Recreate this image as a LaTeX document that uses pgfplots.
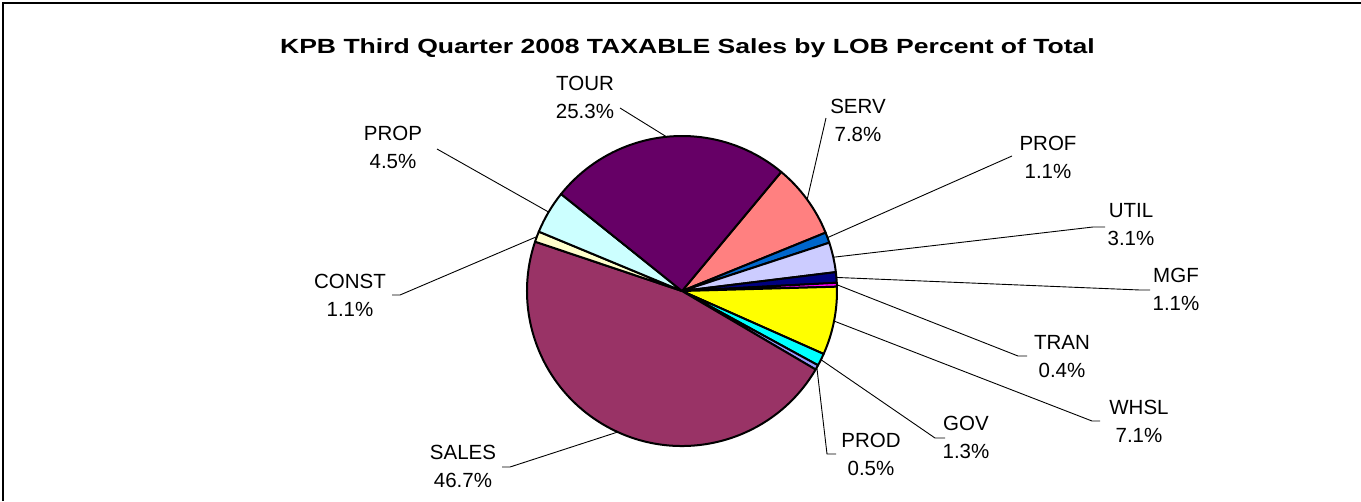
\documentclass[border=0pt]{standalone}
\usepackage{graphicx}
\usepackage{pgfplots}
\pgfplotsset{compat=1.18}
\usepackage{pgfplotstable}
\usepackage{fontspec}
\setmainfont{Liberation Sans}
\definecolor{cTOUR}{HTML}{660066}
\definecolor{cSERV}{HTML}{FF8080}
\definecolor{cPROF}{HTML}{0066CC}
\definecolor{cUTIL}{HTML}{CCCCFF}
\definecolor{cMGF}{HTML}{000080}
\definecolor{cTRAN}{HTML}{FF00FF}
\definecolor{cWHSL}{HTML}{FFFF00}
\definecolor{cGOV}{HTML}{00FFFF}
\definecolor{cPROD}{HTML}{9999FF}
\definecolor{cSALES}{HTML}{993366}
\definecolor{cCONST}{HTML}{FFFFCC}
\definecolor{cPROP}{HTML}{CCFFFF}
% name, percent, colour, label centre (lx,ly), leader elbow (ex,ey), end of short horizontal (hx)
\pgfplotstableread[col sep=comma]{
name,pct,col,lx,ly,ex,ey,hx
SERV,7.8,cSERV,858,120,826,118,826
PROF,1.1,cPROF,1048,157,1012,156,1012
UTIL,3.1,cUTIL,1131,225,1093,227,1105
MGF,1.1,cMGF,1176,289,1140,290,1150
TRAN,0.4,cTRAN,1062,357,1018,356,1027
WHSL,7.1,cWHSL,1139,421,1092,421,1100
GOV,1.3,cGOV,966,437,935,438,945
PROD,0.5,cPROD,871,454,827,454,836
SALES,46.7,cSALES,463,466,510,467,502
CONST,1.1,cCONST,350,295,400,295,392
PROP,4.5,cPROP,393,147,437,149,437
TOUR,25.3,cTOUR,585,97,620,108,620
}\piedata
\begin{document}
\begin{tikzpicture}
\begin{axis}[name=ax, x=1pt, y=1pt, xmin=0, xmax=1361, ymin=0, ymax=501,
  y dir=reverse, hide axis, clip=false, at={(0,0)}, anchor=south west]
\pgfplotstablegetrowsof{\piedata}
\pgfmathtruncatemacro{\nrows}{\pgfplotsretval-1}
\def\curang{50.2}
\pgfplotsforeachungrouped \i in {0,...,\nrows}{%
  \pgfplotstablegetelem{\i}{name}\of\piedata \let\nm\pgfplotsretval
  \pgfplotstablegetelem{\i}{pct}\of\piedata \let\pct\pgfplotsretval
  \pgfplotstablegetelem{\i}{col}\of\piedata \let\col\pgfplotsretval
  \pgfplotstablegetelem{\i}{lx}\of\piedata \let\lx\pgfplotsretval
  \pgfplotstablegetelem{\i}{ly}\of\piedata \let\ly\pgfplotsretval
  \pgfplotstablegetelem{\i}{ex}\of\piedata \let\ex\pgfplotsretval
  \pgfplotstablegetelem{\i}{ey}\of\piedata \let\ey\pgfplotsretval
  \pgfplotstablegetelem{\i}{hx}\of\piedata \let\hx\pgfplotsretval
  \pgfmathsetmacro{\endang}{\curang-3.6*\pct}
  \pgfmathsetmacro{\midang}{\curang-1.8*\pct}
  \edef\temp{\noexpand\filldraw[fill=\col, draw=black, line width=2pt, line join=round]
     (axis cs:682,291) -- ++(\curang:155pt) arc[start angle=\curang, end angle=\endang, radius=155pt] -- cycle;
     \noexpand\draw[black, line width=0.9pt] (axis cs:682,291) ++(\midang:155pt) -- (axis cs:\ex,\ey) -- (axis cs:\hx,\ey);
     \noexpand\node[align=center, font=\noexpand\fontsize{20.5}{28}\noexpand\selectfont, inner sep=0pt] at (axis cs:\lx,\ly) {\nm\noexpand\\\pct\noexpand\%};}%
  \temp
  \global\let\curang\endang
}
\node[font=\bfseries\fontsize{20.5}{24}\selectfont, inner sep=0pt] at (axis cs:687.5,48)
  {\scalebox{1.295}[1]{KPB Third Quarter 2008 TAXABLE Sales by LOB Percent of Total}};
\draw[black, line width=1.6pt] (axis cs:3,501) -- (axis cs:3,3) -- (axis cs:1361,3);
\end{axis}
\pgfresetboundingbox
\path[use as bounding box] (ax.south west) rectangle (ax.north east);
\end{tikzpicture}
\end{document}
